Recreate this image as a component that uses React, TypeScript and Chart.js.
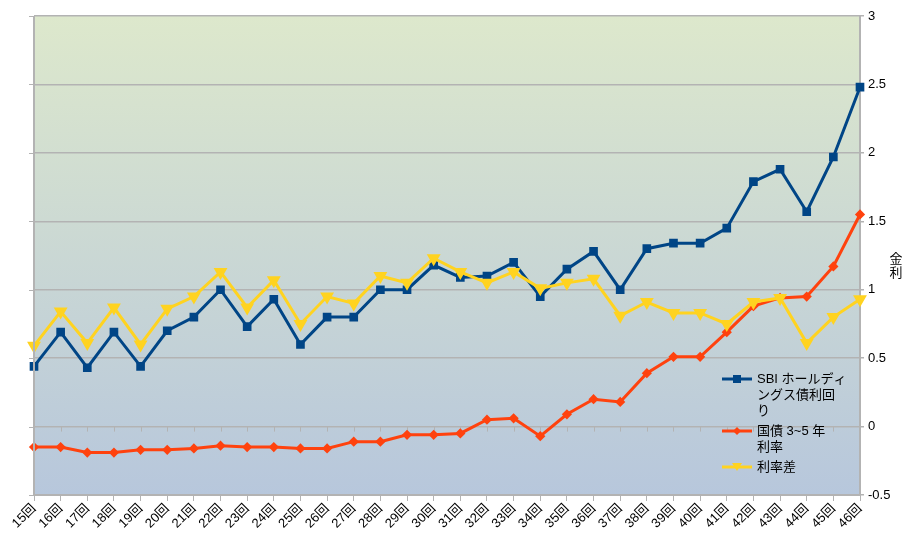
import React, { useEffect, useRef } from 'react';
import { Chart, registerables, type ChartConfiguration, type Plugin } from 'chart.js';

Chart.register(...registerables);

const rounds = [
  '15回', '16回', '17回', '18回', '19回', '20回', '21回', '22回', '23回', '24回', '25回',
  '26回', '27回', '28回', '29回', '30回', '31回', '32回', '33回', '34回', '35回', '36回',
  '37回', '38回', '39回', '40回', '41回', '42回', '43回', '44回', '45回', '46回',
];

// SBIホールディングス債利回り
const sbiYield = [
  0.44, 0.69, 0.43, 0.69, 0.44, 0.7, 0.8, 1.0, 0.73, 0.93, 0.6, 0.8, 0.8, 1.0, 1.0, 1.18,
  1.09, 1.1, 1.2, 0.95, 1.15, 1.28, 1.0, 1.3, 1.34, 1.34, 1.45, 1.79, 1.88, 1.57, 1.97, 2.48,
];

// 国債 3~5 年利率
const jgbRate = [
  -0.15, -0.15, -0.19, -0.19, -0.17, -0.17, -0.16, -0.14, -0.15, -0.15, -0.16, -0.16, -0.11,
  -0.11, -0.06, -0.06, -0.05, 0.05, 0.06, -0.07, 0.09, 0.2, 0.18, 0.39, 0.51, 0.51, 0.69, 0.88,
  0.94, 0.95, 1.17, 1.55,
];

// 利率差
const spread = [
  0.59, 0.84, 0.61, 0.87, 0.6, 0.86, 0.95, 1.13, 0.87, 1.07, 0.75, 0.95, 0.9, 1.1, 1.05, 1.23,
  1.13, 1.05, 1.13, 1.01, 1.05, 1.08, 0.81, 0.91, 0.83, 0.83, 0.75, 0.91, 0.94, 0.61, 0.8, 0.93,
];

const legendItems = [
  { lines: ['SBI ホールディ', 'ングス債利回', 'り'], color: '#004586', style: 'rect' },
  { lines: ['国債 3~5 年', '利率'], color: '#ff420e', style: 'diamond' },
  { lines: ['利率差'], color: '#ffd320', style: 'tri' },
];

const FONT = '"Liberation Sans", "Noto Sans CJK JP", sans-serif';
const GRID = '#b3b3b3';

const extras: Plugin<'line'> = {
  id: 'extras',
  beforeDraw(chart) {
    const { ctx, chartArea: a } = chart;
    ctx.save();
    const g = ctx.createLinearGradient(0, a.top, 0, a.bottom);
    g.addColorStop(0, 'rgb(221,232,204)');
    g.addColorStop(1, 'rgb(183,199,220)');
    ctx.fillStyle = g;
    ctx.fillRect(a.left, a.top, a.right - a.left, a.bottom - a.top);
    ctx.restore();
  },
  beforeDatasetsDraw(chart) {
    // little ticks hanging under the zero line
    const { ctx, scales } = chart;
    const x = scales.x;
    const y0 = scales.y.getPixelForValue(0);
    ctx.save();
    ctx.strokeStyle = GRID;
    ctx.lineWidth = 1;
    rounds.forEach((_, i) => {
      const px = Math.round(x.getPixelForValue(i)) + 0.5;
      ctx.beginPath();
      ctx.moveTo(px, y0);
      ctx.lineTo(px, y0 + 5);
      ctx.stroke();
    });
    ctx.restore();
  },
  afterDraw(chart) {
    const { ctx, chartArea: a, scales } = chart;
    const y = scales.y;
    ctx.save();
    // left axis line and grid stubs
    ctx.strokeStyle = GRID;
    ctx.lineWidth = 2;
    ctx.beginPath();
    ctx.moveTo(a.left, a.top);
    ctx.lineTo(a.left, a.bottom);
    ctx.stroke();
    ctx.lineWidth = 1;
    y.ticks.forEach((t) => {
      const py = Math.round(y.getPixelForValue(t.value)) + 0.5;
      ctx.beginPath();
      ctx.moveTo(a.left - 5, py);
      ctx.lineTo(a.left, py);
      ctx.stroke();
    });

    // axis title, stacked characters
    ctx.fillStyle = '#000';
    ctx.font = `13px ${FONT}`;
    ctx.textAlign = 'center';
    ctx.textBaseline = 'middle';
    const midY = (a.top + a.bottom) / 2;
    ctx.fillText('金', 896, midY + 4);
    ctx.fillText('利', 896, midY + 18);

    // legend
    const lx = a.right - 138;
    let ly = 379;
    ctx.textAlign = 'left';
    legendItems.forEach((item) => {
      ctx.strokeStyle = item.color;
      ctx.fillStyle = item.color;
      ctx.lineWidth = 3;
      ctx.beginPath();
      ctx.moveTo(lx, ly);
      ctx.lineTo(lx + 30, ly);
      ctx.stroke();
      const cx = lx + 15;
      ctx.beginPath();
      if (item.style === 'rect') {
        ctx.rect(cx - 4, ly - 4, 8, 8);
      } else if (item.style === 'diamond') {
        ctx.moveTo(cx, ly - 4);
        ctx.lineTo(cx + 4, ly);
        ctx.lineTo(cx, ly + 4);
        ctx.lineTo(cx - 4, ly);
        ctx.closePath();
      } else {
        ctx.moveTo(cx - 5, ly - 4);
        ctx.lineTo(cx + 5, ly - 4);
        ctx.lineTo(cx, ly + 4);
        ctx.closePath();
      }
      ctx.fill();
      ctx.fillStyle = '#000';
      item.lines.forEach((line, i) => {
        ctx.fillText(line, lx + 35, ly + i * 16);
      });
      ly += item.lines.length * 16 + 4;
    });
    ctx.restore();
  },
};

export default function App() {
  const canvasRef = useRef<HTMLCanvasElement | null>(null);

  useEffect(() => {
    if (!canvasRef.current) return;

    const config: ChartConfiguration<'line'> = {
      type: 'line',
      data: {
        labels: rounds,
        datasets: [
          {
            label: 'SBI ホールディングス債利回り',
            data: sbiYield,
            borderColor: '#004586',
            backgroundColor: '#004586',
            borderWidth: 3,
            pointStyle: 'rect',
            pointRadius: 4,
            tension: 0,
            order: 2,
          },
          {
            label: '国債 3~5 年利率',
            data: jgbRate,
            borderColor: '#ff420e',
            backgroundColor: '#ff420e',
            borderWidth: 3,
            pointStyle: 'rectRot',
            pointRadius: 3,
            tension: 0,
            order: 1,
          },
          {
            label: '利率差',
            data: spread,
            borderColor: '#ffd320',
            backgroundColor: '#ffd320',
            borderWidth: 3,
            pointStyle: 'triangle',
            pointRotation: 180,
            pointRadius: 5,
            tension: 0,
            order: 0,
          },
        ],
      },
      options: {
        animation: false,
        responsive: true,
        maintainAspectRatio: false,
        layout: { padding: { left: 34, top: 16, right: 0, bottom: 0 } },
        plugins: {
          legend: { display: false },
          tooltip: { enabled: false },
        },
        scales: {
          x: {
            offset: false,
            grid: {
              offset: false,
              drawOnChartArea: false,
              color: GRID,
              tickLength: 6,
            },
            border: { color: GRID, width: 2 },
            ticks: {
              autoSkip: false,
              minRotation: 45,
              maxRotation: 45,
              color: '#000',
              padding: 0,
              font: { family: FONT, size: 13 },
            },
            afterFit: (scale) => {
              scale.height = 51;
            },
          },
          y: {
            position: 'right',
            min: -0.5,
            max: 3,
            grid: { color: GRID, lineWidth: 1.5, tickLength: 4 },
            border: { color: GRID, width: 2 },
            ticks: {
              stepSize: 0.5,
              color: '#000',
              padding: 4,
              font: { family: FONT, size: 13 },
              callback: (v) => String(Number(v)),
            },
            afterFit: (scale) => {
              scale.width = 47;
            },
          },
        },
      },
      plugins: [extras],
    };

    const chart = new Chart(canvasRef.current, config);
    return () => chart.destroy();
  }, []);

  return (
    <div style={{ position: 'absolute', left: 0, top: 0, width: 907, height: 546, background: '#fff' }}>
      <canvas ref={canvasRef} />
    </div>
  );
}
